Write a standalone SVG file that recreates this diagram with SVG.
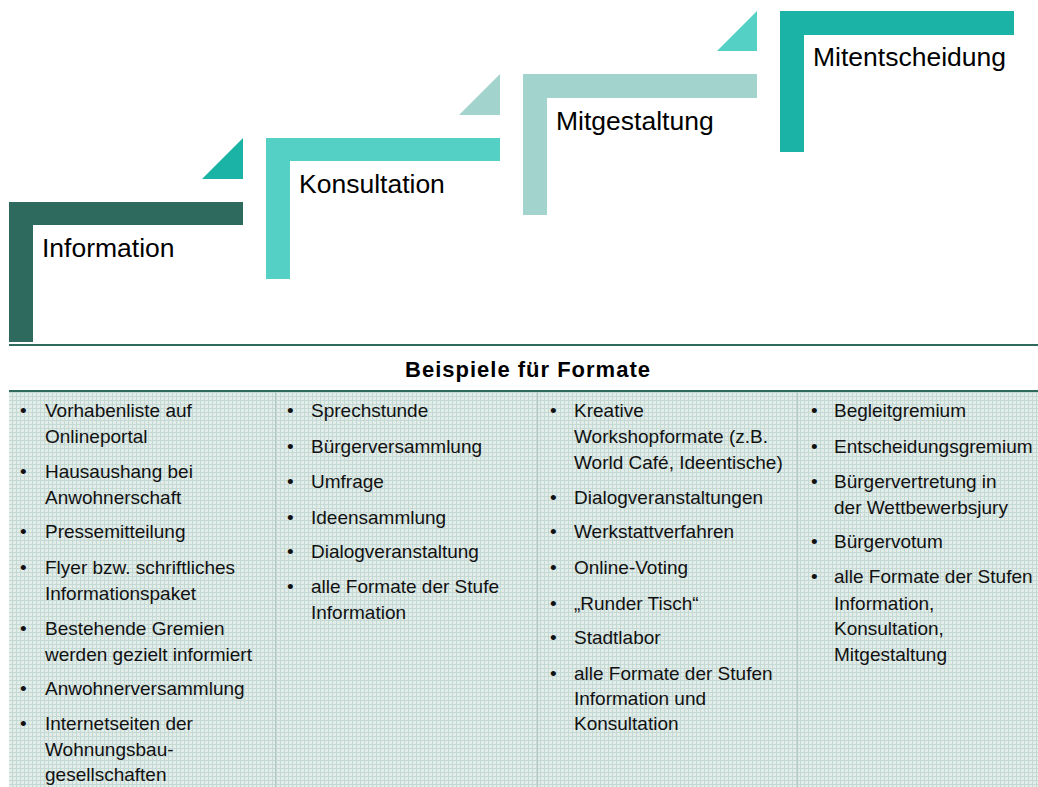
<svg xmlns="http://www.w3.org/2000/svg" width="1038" height="787" viewBox="0 0 1038 787">
<defs>
<pattern id="grid" width="4" height="4" patternUnits="userSpaceOnUse">
<rect width="4" height="4" fill="#e2ece9"/>
<path d="M0 0.5H4M0.5 0V4" stroke="#c4d8d4" stroke-width="1"/>
</pattern>
<style>
.step{font-family:"Liberation Sans",Arial,sans-serif;font-size:26.5px;fill:#000}
.t{font-family:"Liberation Sans",Arial,sans-serif;font-size:19px;fill:#111}
.title{font-family:"Liberation Sans",Arial,sans-serif;font-size:22px;font-weight:bold;letter-spacing:1px;fill:#000}
.sep{stroke:#b3c9c4;stroke-width:1}
.rule{stroke:#2e6b5e;stroke-width:2}
</style>
</defs>
<rect width="1038" height="787" fill="#fff"/>

<g id="step-information">
<path d="M9 202H243V225H33V342H9Z" fill="#2e6b5e"/>
<polygon points="202,179 243,138 243,179" fill="#1ab3a6"/>
<text class="step" x="42" y="257">Information</text>
</g>
<g id="step-konsultation">
<path d="M266 138H500V161H290V279H266Z" fill="#55d0c4"/>
<polygon points="459,115 500,74 500,115" fill="#a2d3cd"/>
<text class="step" x="299" y="193">Konsultation</text>
</g>
<g id="step-mitgestaltung">
<path d="M523 74H757V98H547V215H523Z" fill="#a2d3cd"/>
<polygon points="717,51 757,11 757,51" fill="#55d0c4"/>
<text class="step" x="556" y="130">Mitgestaltung</text>
</g>
<g id="step-mitentscheidung">
<path d="M780 11H1014V35H804V152H780Z" fill="#1ab3a6"/>
<text class="step" x="813" y="66">Mitentscheidung</text>
</g>

<g id="table">
<line class="rule" x1="9" y1="345" x2="1038" y2="345"/>
<text class="title" x="528" y="377" text-anchor="middle">Beispiele für Formate</text>
<rect x="9" y="391" width="1029" height="396" fill="url(#grid)"/>
<line class="rule" x1="9" y1="391" x2="1038" y2="391"/>
<line class="sep" x1="275.5" y1="392" x2="275.5" y2="787"/>
<line class="sep" x1="537.5" y1="392" x2="537.5" y2="787"/>
<line class="sep" x1="797.5" y1="392" x2="797.5" y2="787"/>
</g>

<g id="col-information" class="t">
<text class="t" x="20" y="417">•</text><text class="t" x="45" y="417">Vorhabenliste auf</text>
<text class="t" x="45" y="443">Onlineportal</text>
<text class="t" x="20" y="478">•</text><text class="t" x="45" y="478">Hausaushang bei</text>
<text class="t" x="45" y="504">Anwohnerschaft</text>
<text class="t" x="20" y="538">•</text><text class="t" x="45" y="538">Pressemitteilung</text>
<text class="t" x="20" y="574">•</text><text class="t" x="45" y="574">Flyer bzw. schriftliches</text>
<text class="t" x="45" y="600">Informationspaket</text>
<text class="t" x="20" y="635">•</text><text class="t" x="45" y="635">Bestehende Gremien</text>
<text class="t" x="45" y="661">werden gezielt informiert</text>
<text class="t" x="20" y="695">•</text><text class="t" x="45" y="695">Anwohnerversammlung</text>
<text class="t" x="20" y="730">•</text><text class="t" x="45" y="730">Internetseiten der</text>
<text class="t" x="45" y="756">Wohnungsbau-</text>
<text class="t" x="45" y="781">gesellschaften</text>
</g>

<g id="col-konsultation">
<text class="t" x="287" y="417">•</text><text class="t" x="311" y="417">Sprechstunde</text>
<text class="t" x="287" y="453">•</text><text class="t" x="311" y="453">Bürgerversammlung</text>
<text class="t" x="287" y="488">•</text><text class="t" x="311" y="488">Umfrage</text>
<text class="t" x="287" y="524">•</text><text class="t" x="311" y="524">Ideensammlung</text>
<text class="t" x="287" y="558">•</text><text class="t" x="311" y="558">Dialogveranstaltung</text>
<text class="t" x="287" y="593">•</text><text class="t" x="311" y="593">alle Formate der Stufe</text>
<text class="t" x="311" y="619">Information</text>
</g>

<g id="col-mitgestaltung">
<text class="t" x="550" y="417">•</text><text class="t" x="574" y="417">Kreative</text>
<text class="t" x="574" y="443">Workshopformate (z.B.</text>
<text class="t" x="574" y="469">World Café, Ideentische)</text>
<text class="t" x="550" y="504">•</text><text class="t" x="574" y="504">Dialogveranstaltungen</text>
<text class="t" x="550" y="538">•</text><text class="t" x="574" y="538">Werkstattverfahren</text>
<text class="t" x="550" y="574">•</text><text class="t" x="574" y="574">Online-Voting</text>
<text class="t" x="550" y="610">•</text><text class="t" x="574" y="610">„Runder Tisch“</text>
<text class="t" x="550" y="644">•</text><text class="t" x="574" y="644">Stadtlabor</text>
<text class="t" x="550" y="680">•</text><text class="t" x="574" y="680">alle Formate der Stufen</text>
<text class="t" x="574" y="705">Information und</text>
<text class="t" x="574" y="730">Konsultation</text>
</g>

<g id="col-mitentscheidung">
<text class="t" x="811" y="417">•</text><text class="t" x="834" y="417">Begleitgremium</text>
<text class="t" x="811" y="453">•</text><text class="t" x="834" y="453">Entscheidungsgremium</text>
<text class="t" x="811" y="488">•</text><text class="t" x="834" y="488">Bürgervertretung in</text>
<text class="t" x="834" y="514">der Wettbewerbsjury</text>
<text class="t" x="811" y="548">•</text><text class="t" x="834" y="548">Bürgervotum</text>
<text class="t" x="811" y="583">•</text><text class="t" x="834" y="583">alle Formate der Stufen</text>
<text class="t" x="834" y="610">Information,</text>
<text class="t" x="834" y="635">Konsultation,</text>
<text class="t" x="834" y="661">Mitgestaltung</text>
</g>
</svg>
